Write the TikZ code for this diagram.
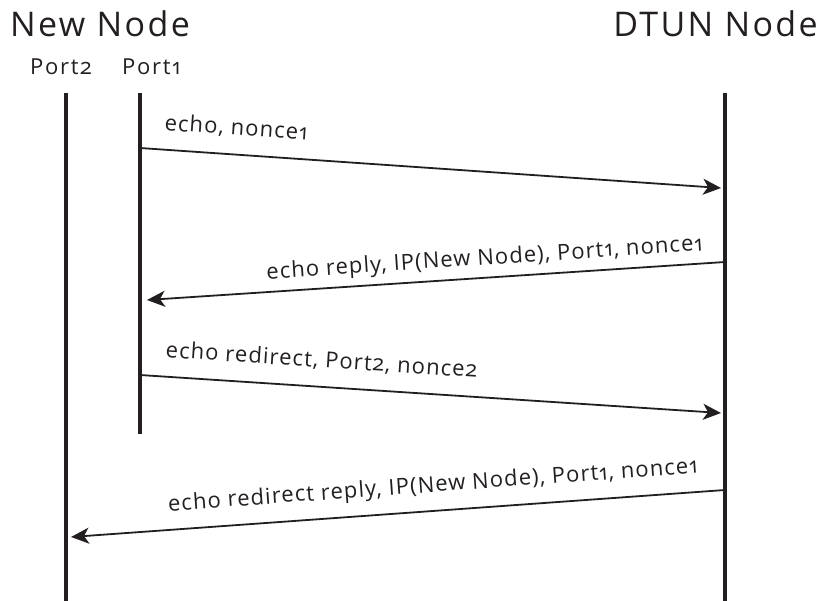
\documentclass[tikz,border=0pt]{standalone}
\usepackage{fontspec}
\setmainfont[Numbers=OldStyle]{Open Sans}
\newfontfamily\titlefont[Numbers=OldStyle,LetterSpace=7]{Open Sans}
\newfontfamily\labelfont[Numbers=OldStyle,LetterSpace=5]{Open Sans}
\newfontfamily\portfont[Numbers=OldStyle,LetterSpace=8]{Open Sans}
\usetikzlibrary{arrows.meta}
\definecolor{ink}{HTML}{231F20}
\tikzset{
  lifeline/.style={draw=ink, line width=3.5pt},
  msg/.style={draw=ink, line width=1.8pt, -{Stealth[length=18pt,width=16pt,inset=5pt]}},
  msgback/.style={draw=ink, line width=1.8pt, {Stealth[length=18pt,width=16pt,inset=5pt]}-},
  title/.style={text=ink, font=\titlefont\fontsize{34}{38}\selectfont, inner sep=0pt},
  port/.style={text=ink, font=\portfont\fontsize{22}{24}\selectfont, inner sep=0pt, anchor=base west},
  lbl/.style={text=ink, font=\labelfont\fontsize{22}{24}\selectfont, sloped, inner xsep=0pt, text depth=0pt}
}
\begin{document}
\begin{tikzpicture}[x=1pt,y=-1pt]
\useasboundingbox (0,0) rectangle (822,601);
% titles
\node[title, anchor=base west] (newnode) at (10,37) {New Node};
\node[title, anchor=base east] (dtun) at (818,37) {DTUN Node};
\node[port] (port2) at (30,75) {Port2};
\node[port] (port1) at (122,75) {Port1};
% lifelines
\coordinate (p2top) at (66,93);
\coordinate (p2bot) at (66,601);
\coordinate (p1top) at (140,93);
\coordinate (p1bot) at (140,434);
\coordinate (dtop) at (725,93);
\coordinate (dbot) at (725,601);
\draw[lifeline] (p2top) -- (p2bot);
\draw[lifeline] (p1top) -- (p1bot);
\draw[lifeline] (dtop) -- (dbot);
% message end points
\coordinate (m1a) at (140,148);
\coordinate (m1b) at (721,188);
\coordinate (m2a) at (147,300);
\coordinate (m2b) at (725,262);
\coordinate (m3a) at (140,375);
\coordinate (m3b) at (721,413);
\coordinate (m4a) at (71,537);
\coordinate (m4b) at (725,490);
% messages
\draw[msg] (m1a) -- (m1b) node[lbl, inner ysep=18.5pt, pos=0.038, anchor=south west] (l1) {echo, nonce1};
\draw[msgback] (m2a) -- (m2b) node[lbl, inner ysep=12pt, pos=0.965, anchor=south east] (l2) {echo reply, IP(New Node), Port1, nonce1};
\draw[msg] (m3a) -- (m3b) node[lbl, inner ysep=18.5pt, pos=0.04, anchor=south west] (l3) {echo redirect, Port2, nonce2};
\draw[msgback] (m4a) -- (m4b) node[lbl, inner ysep=18pt, pos=0.962, anchor=south east] (l4) {echo redirect reply, IP(New Node), Port1, nonce1};
\end{tikzpicture}
\end{document}
